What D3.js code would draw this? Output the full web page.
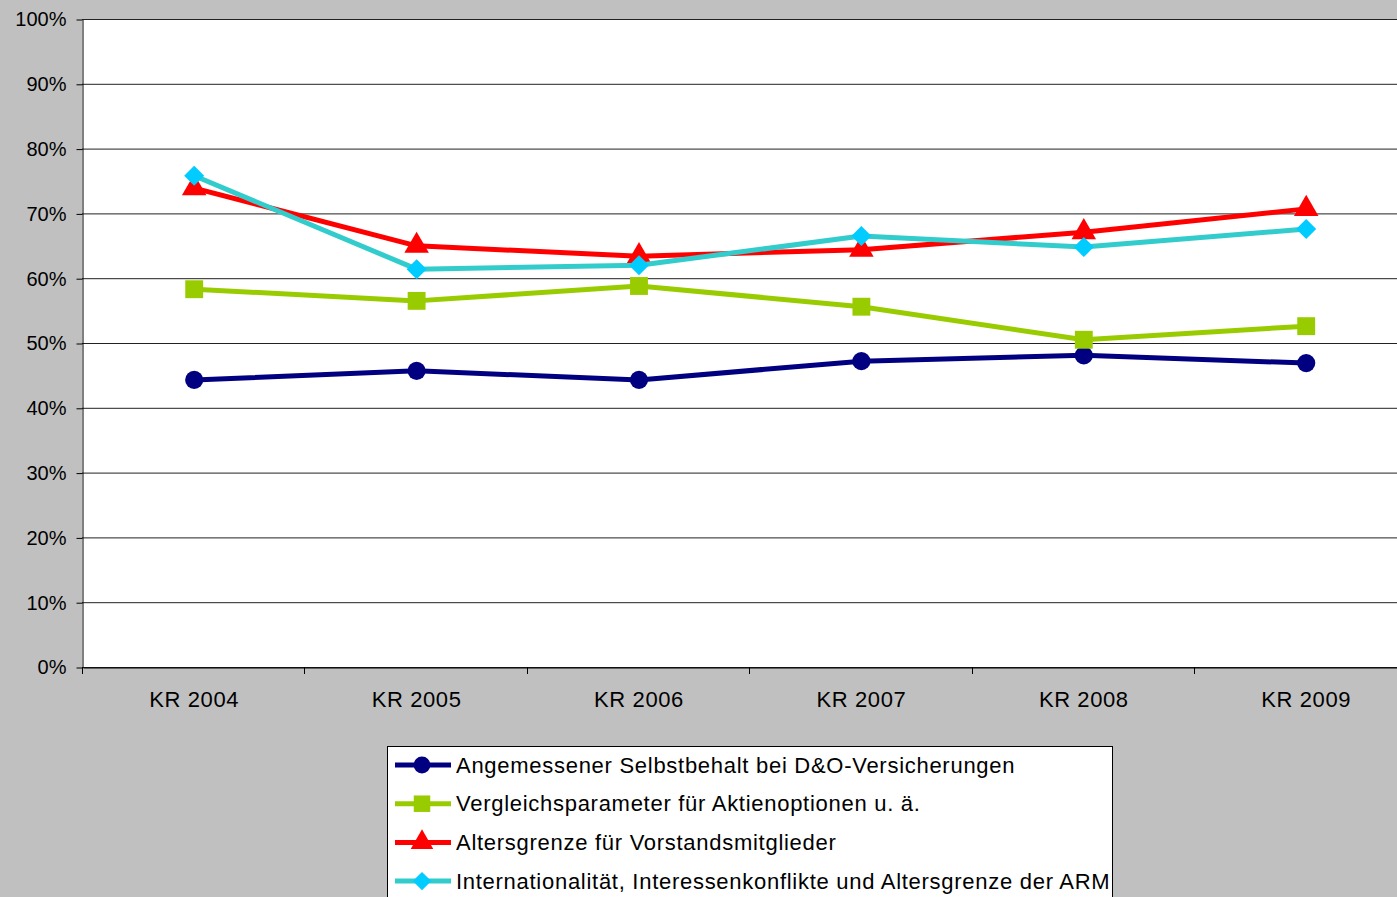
<html>
<head>
    <style>
        body { margin: 0; background: #c0c0c0; }
        text { font-family: "Liberation Sans", Arial, sans-serif; }
    </style>
    <script src="https://cdn.jsdelivr.net/npm/d3@7"></script>
</head>
<body>
    <svg id="container" width="1397" height="897"></svg>
</body>
<script>
    // Kategorien und Werte (Anteil in %)
    let categories = ["KR 2004", "KR 2005", "KR 2006", "KR 2007", "KR 2008", "KR 2009"]
    let seriesNames = [
        "Angemessener Selbstbehalt bei D&O-Versicherungen",
        "Vergleichsparameter für Aktienoptionen u. ä.",
        "Altersgrenze für Vorstandsmitglieder",
        "Internationalität, Interessenkonflikte und Altersgrenze der ARM"
    ]
    let selbstbehalt = [44.3, 45.7, 44.3, 47.2, 48.1, 46.9]
    let vergleich = [58.3, 56.5, 58.8, 55.6, 50.5, 52.6]
    let altersgrenze = [73.9, 65.0, 63.4, 64.4, 67.1, 70.7]
    let international = [75.8, 61.4, 62.0, 66.5, 64.8, 67.6]
    let yTicks = [0, 10, 20, 30, 40, 50, 60, 70, 80, 90, 100]

    let series = [
        { name: seriesNames[0], values: selbstbehalt, line: "#000080", fill: "#000080", symbol: d3.symbolCircle, size: 260, rot: 0 },
        { name: seriesNames[1], values: vergleich, line: "#99cc00", fill: "#99cc00", symbol: d3.symbolSquare, size: 320, rot: 0 },
        { name: seriesNames[2], values: altersgrenze, line: "#ff0000", fill: "#ff0000", symbol: d3.symbolTriangle, size: 260, rot: 0 },
        { name: seriesNames[3], values: international, line: "#33cccc", fill: "#00ccff", symbol: d3.symbolSquare, size: 200, rot: 45 }
    ]

    let svg = d3.select("#container")
    let plotLeft = 82, plotTop = 19, plotBottom = 667
    let bandW = 222.4

    let x = d3.scaleBand()
        .domain(categories)
        .range([plotLeft + 1, plotLeft + 1 + bandW * categories.length])
    let y = d3.scaleLinear()
        .domain([0, 100])
        .range([plotBottom, plotTop])

    // Plotfläche
    svg.append("rect")
        .attr("x", plotLeft).attr("y", plotTop)
        .attr("width", 1397 - plotLeft).attr("height", plotBottom - plotTop)
        .attr("fill", "white")

    // Gitterlinien
    svg.append("g")
        .selectAll("line")
        .data(yTicks)
        .enter()
        .append("line")
        .attr("x1", plotLeft).attr("x2", 1397)
        .attr("y1", d => y(d) + 0.5).attr("y2", d => y(d) + 0.5)
        .attr("stroke", "#222")
        .attr("stroke-width", 1)

    // Y-Achse
    let yAxis = svg.append("g")
        .attr("transform", "translate(" + (plotLeft + 0.5) + ",0.5)")
        .call(d3.axisLeft(y).tickValues(yTicks).tickFormat(d => d + "%").tickSize(6).tickSizeOuter(0))
    yAxis.select(".domain").attr("stroke", "#000")
    yAxis.selectAll("text")
        .style("font-family", "Liberation Sans, Arial, sans-serif")
        .style("font-size", "20px")
        .attr("fill", "#000")
        .attr("x", -16)

    // X-Achse
    let xAxis = svg.append("g")
        .attr("transform", "translate(0," + (plotBottom + 0.5) + ")")
        .call(d3.axisBottom(x).tickSize(0).tickSizeOuter(0))
    xAxis.select(".domain").attr("stroke", "#000")
    xAxis.selectAll("text")
        .style("font-family", "Liberation Sans, Arial, sans-serif")
        .style("font-size", "22px")
        .style("letter-spacing", "0.6px")
        .attr("fill", "#000")
        .attr("y", 24)
    // Teilstriche an Kategoriegrenzen
    svg.append("g")
        .selectAll("line")
        .data(categories)
        .enter()
        .append("line")
        .attr("x1", d => Math.round(x(d)) - 0.5).attr("x2", d => Math.round(x(d)) - 0.5)
        .attr("y1", plotBottom).attr("y2", plotBottom + 7)
        .attr("stroke", "#000")

    let cx = d => x(d) + x.bandwidth() / 2

    let line = d3.line()
        .x((d, i) => cx(categories[i]))
        .y(d => y(d))

    series.forEach(s => {
        svg.append("path")
            .datum(s.values)
            .attr("d", line)
            .attr("fill", "none")
            .attr("stroke", s.line)
            .attr("stroke-width", 5)
            .attr("stroke-linejoin", "round")

        svg.append("g")
            .selectAll("path")
            .data(s.values)
            .enter()
            .append("path")
            .attr("transform", (d, i) => "translate(" + cx(categories[i]) + "," + y(d) + ") rotate(" + s.rot + ")")
            .attr("d", d3.symbol().type(s.symbol).size(s.size))
            .attr("fill", s.fill)
    })

    // Legende
    let legend = svg.append("g")
    legend.append("rect")
        .attr("x", 387.5).attr("y", 746.5)
        .attr("width", 725).attr("height", 170)
        .attr("fill", "white")
        .attr("stroke", "#000")

    let rows = legend.selectAll(".row")
        .data(series)
        .enter()
        .append("g")
        .attr("transform", (d, i) => "translate(0," + (765 + i * 38.7) + ")")
    rows.append("line")
        .attr("x1", 395).attr("x2", 451)
        .attr("stroke", d => d.line)
        .attr("stroke-width", 5)
    rows.append("path")
        .attr("transform", d => "translate(422,0) rotate(" + d.rot + ")")
        .attr("d", d => d3.symbol().type(d.symbol).size(d.size * 0.85)())
        .attr("fill", d => d.fill)
    rows.append("text")
        .attr("x", 456)
        .attr("dy", "0.35em")
        .style("font-size", "22px")
        .style("letter-spacing", "0.72px")
        .text(d => d.name)
</script>
</html>
